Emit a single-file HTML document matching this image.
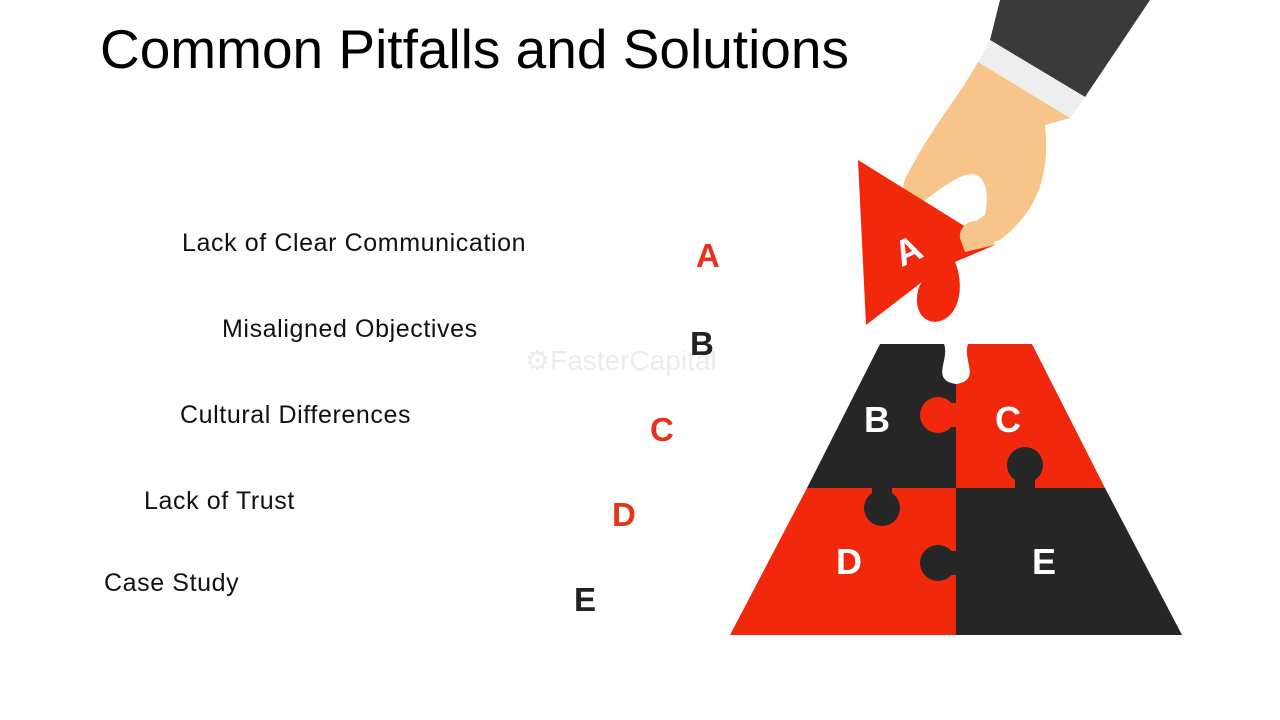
<!DOCTYPE html>
<html><head><meta charset="utf-8"><style>
body{margin:0;width:1280px;height:720px;background:#fff;position:relative;overflow:hidden;font-family:"Liberation Sans",sans-serif}
.t{position:absolute;white-space:nowrap}
.it{font-size:25px;color:#111;letter-spacing:0.6px}
.L{font-size:33px;font-weight:bold}
</style></head><body>
<div class="t" style="left:100px;top:17px;font-size:55px;color:#000">Common Pitfalls and Solutions</div>
<div class="t it" style="left:182px;top:229px">Lack of Clear Communication</div>
<div class="t it" style="left:222px;top:315px">Misaligned Objectives</div>
<div class="t it" style="left:180px;top:401px">Cultural Differences</div>
<div class="t it" style="left:144px;top:487px">Lack of Trust</div>
<div class="t it" style="left:104px;top:569px">Case Study</div>
<div class="t L" style="left:696px;top:237px;color:#e8321a">A</div>
<div class="t L" style="left:690px;top:325px;color:#222">B</div>
<div class="t L" style="left:650px;top:411px;color:#e8321a">C</div>
<div class="t L" style="left:612px;top:496px;color:#e8321a">D</div>
<div class="t L" style="left:574px;top:581px;color:#222">E</div>
<svg style="position:absolute;left:0;top:0" width="1280" height="720">
<text x="525" y="370" font-size="28" fill="#ececec" font-family="Liberation Sans">⚙FasterCapital</text>
<polygon points="1000,0 1150,0 1085,97 990,40" fill="#3a3a3a"/>
<polygon points="990,40 1085,97 1070,118 978,62" fill="#eeeeee"/>
<path d="M978,62 L1070,118 L1045,125 C1050,170 1040,210 1000,240 L965,250 C955,240 962,230 985,215 C990,190 985,170 965,175 C940,185 930,200 915,205 C900,200 900,185 910,170 C930,130 960,95 978,62 Z" fill="#f7c48a"/>
<path d="M858,160 L995,245 L955,262 C965,285 960,320 935,322 C912,320 915,290 922,282 L866,325 Z" fill="#f2280c"/>
<path d="M960,238 C958,225 975,215 988,225 L995,245 L965,252 Z" fill="#f7c48a"/>
<text x="895" y="262" font-size="36" font-weight="bold" fill="#fff" transform="rotate(-25 910 250)" font-family="Liberation Sans">A</text>
<polygon points="880,344 956,344 956,488 807,488" fill="#262626"/>
<polygon points="956,344 1032,344 1105,488 956,488" fill="#f2280c"/>
<polygon points="807,488 956,488 956,635 730,635" fill="#f2280c"/>
<polygon points="956,488 1105,488 1182,635 956,635" fill="#262626"/>
<path d="M944,344 C950,360 930,380 956,384 C982,380 962,360 968,344 Z" fill="#fff"/>
<circle cx="938" cy="415" r="18" fill="#f2280c"/><rect x="938" y="403" width="18" height="24" fill="#f2280c"/>
<circle cx="1025" cy="465" r="18" fill="#262626"/><rect x="1015" y="465" width="20" height="23" fill="#262626"/>
<circle cx="882" cy="508" r="18" fill="#262626"/><rect x="872" y="488" width="20" height="20" fill="#262626"/>
<circle cx="938" cy="563" r="18" fill="#262626"/><rect x="938" y="551" width="18" height="24" fill="#262626"/>
<g font-size="36" font-weight="bold" fill="#fff" font-family="Liberation Sans">
<text x="864" y="432">B</text><text x="995" y="432">C</text><text x="836" y="574">D</text><text x="1032" y="574">E</text></g>
</svg>
</body></html>
